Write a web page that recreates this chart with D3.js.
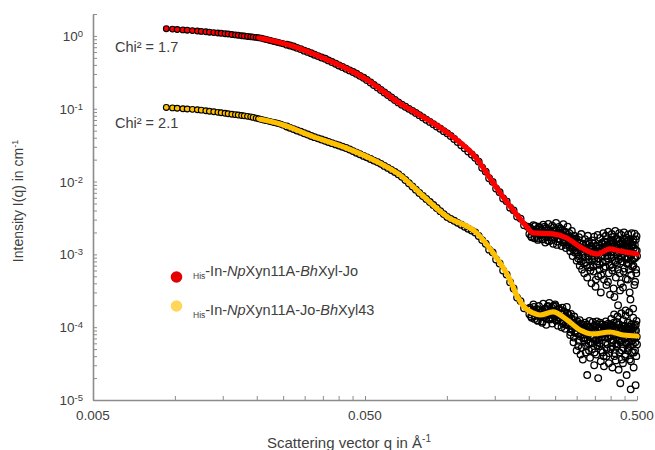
<!DOCTYPE html>
<html>
<head>
<meta charset="utf-8">
<style>
  body { margin: 0; background: #fff; }
  svg text { font-family: "Liberation Sans", Arial, sans-serif; fill: #404040; }
</style>
</head>
<body>
<svg id="chart" width="655" height="450"></svg>
<script src="https://d3js.org/d3.v7.min.js"></script>
<script>

// low q: points still visible one by one (fit sits inside them)
var qLow = [0.0093, 0.0098, 0.0102, 0.0107, 0.0111, 0.0116, 0.0121, 0.0125, 0.0130, 0.0134,
  0.0139, 0.0144, 0.0148, 0.0153, 0.0157, 0.0162, 0.0167, 0.0171, 0.0176, 0.0180,
  0.0185, 0.0190, 0.0194, 0.0199, 0.0203, 0.0208, 0.0213, 0.0217, 0.0222, 0.0226,
  0.0231, 0.0236, 0.0240, 0.0245, 0.0250];
var lowRed = [1.256, 1.240, 1.224, 1.209, 1.198, 1.183, 1.168, 1.153, 1.139, 1.124,
  1.110, 1.096, 1.086, 1.072, 1.062, 1.045, 1.032, 1.019, 1.006, 0.997,
  0.984, 0.972, 0.963, 0.954, 0.945, 0.927, 0.907, 0.892, 0.873, 0.859,
  0.840, 0.824, 0.812, 0.796, 0.781];
var lowYellow = [0.1042, 0.1026, 0.1016, 0.1000, 0.0991, 0.0981, 0.0969, 0.0957, 0.0939, 0.0924,
  0.0909, 0.0892, 0.0881, 0.0865, 0.0854, 0.0840, 0.0830, 0.0819, 0.0806, 0.0799,
  0.0786, 0.0774, 0.0760, 0.0743, 0.0729, 0.0713, 0.0697, 0.0686, 0.0671, 0.0661,
  0.0648, 0.0636, 0.0626, 0.0612, 0.0595];

// mid q: measured data (open circles)
var qMid = [0.0258, 0.0265, 0.0273, 0.0281, 0.0290, 0.0299, 0.0308, 0.0317, 0.0326, 0.0336,
  0.0346, 0.0357, 0.0367, 0.0378, 0.0390, 0.0401, 0.0413, 0.0426, 0.0439, 0.0452,
  0.0465, 0.0479, 0.0494, 0.0508, 0.0524, 0.0539, 0.0556, 0.0572, 0.0589, 0.0607,
  0.0625, 0.0644, 0.0663, 0.0683, 0.0704, 0.0725, 0.0747, 0.0769, 0.0792, 0.0816,
  0.0840, 0.0866, 0.0892, 0.0918, 0.0946, 0.0974, 0.1003, 0.1033, 0.1064, 0.1096,
  0.1129, 0.1163, 0.1198, 0.1234, 0.1271, 0.1309, 0.1348, 0.1389, 0.1430, 0.1473,
  0.1517, 0.1563, 0.1610, 0.1658, 0.1708, 0.1759, 0.1812, 0.1866, 0.1922, 0.1980];
var midRed = [0.759, 0.738, 0.717, 0.686, 0.659, 0.628, 0.603, 0.577, 0.552, 0.528,
  0.505, 0.485, 0.461, 0.438, 0.415, 0.393, 0.374, 0.354, 0.336, 0.319,
  0.302, 0.283, 0.266, 0.248, 0.229, 0.2116, 0.1962, 0.1812, 0.1674, 0.1547,
  0.1429, 0.1321, 0.1221, 0.1138, 0.1065, 0.0997, 0.0936, 0.0876, 0.0817, 0.0760,
  0.0706, 0.0659, 0.0612, 0.0569, 0.0530, 0.0492, 0.0459, 0.0423, 0.0384, 0.0348,
  0.0315, 0.0286, 0.0259, 0.0235, 0.0212, 0.0188, 0.0155, 0.0137, 0.0111, 0.00990,
  0.00800, 0.00712, 0.00585, 0.00535, 0.00438, 0.00402, 0.00330, 0.00310, 0.00252, 0.00240];
var midYellow = [0.0571, 0.0546, 0.0525, 0.0502, 0.0482, 0.0461, 0.0442, 0.0423, 0.0407, 0.0392,
  0.0378, 0.0363, 0.0350, 0.0337, 0.0324, 0.0312, 0.0301, 0.0289, 0.0276, 0.0262,
  0.0249, 0.0237, 0.0225, 0.0215, 0.0204, 0.0194, 0.0185, 0.0175, 0.0164, 0.0154,
  0.0144, 0.0135, 0.0126, 0.0116, 0.0105, 0.00948, 0.00856, 0.00774, 0.00697, 0.00634,
  0.00577, 0.00523, 0.00476, 0.00433, 0.00392, 0.00357, 0.00326, 0.00306, 0.00289, 0.00271,
  0.00255, 0.00240, 0.00225, 0.00212, 0.00200, 0.00179, 0.00157, 0.00140, 0.00116, 0.00106,
  0.000850, 0.000750, 0.000600, 0.000530, 0.000415, 0.000340, 0.000255, 0.000228, 0.000182, 0.000178];

// high q: noisy tail, even thousandths
var qHigh = [0.202, 0.204, 0.206, 0.208, 0.210, 0.212, 0.214, 0.216, 0.218, 0.220,
  0.222, 0.224, 0.226, 0.228, 0.230, 0.232, 0.234, 0.236, 0.238, 0.240,
  0.242, 0.244, 0.246, 0.248, 0.250, 0.252, 0.254, 0.256, 0.258, 0.260,
  0.262, 0.264, 0.266, 0.268, 0.270, 0.272, 0.274, 0.276, 0.278, 0.280,
  0.282, 0.284, 0.286, 0.288, 0.290, 0.292, 0.294, 0.296, 0.298, 0.300,
  0.302, 0.304, 0.306, 0.308, 0.310, 0.312, 0.314, 0.316, 0.318, 0.320,
  0.322, 0.324, 0.326, 0.328, 0.330, 0.332, 0.334, 0.336, 0.338, 0.340,
  0.342, 0.344, 0.346, 0.348, 0.350, 0.352, 0.354, 0.356, 0.358, 0.360,
  0.362, 0.364, 0.366, 0.368, 0.370, 0.372, 0.374, 0.376, 0.378, 0.380,
  0.382, 0.384, 0.386, 0.388, 0.390, 0.392, 0.394, 0.396, 0.398, 0.400,
  0.402, 0.404, 0.406, 0.408, 0.410, 0.412, 0.414, 0.416, 0.418, 0.420,
  0.422, 0.424, 0.426, 0.428, 0.430, 0.432, 0.434, 0.436, 0.438, 0.440,
  0.442, 0.444, 0.446, 0.448, 0.450, 0.452, 0.454, 0.456, 0.458, 0.460,
  0.462, 0.464, 0.466, 0.468, 0.470, 0.472, 0.474, 0.476, 0.478, 0.480,
  0.482, 0.484, 0.486, 0.488, 0.490, 0.492, 0.494, 0.496, 0.498, 0.500];
var highRed = [0.00235, 0.00178, 0.00205, 0.00252, 0.00166, 0.00195, 0.00221, 0.00158, 0.00240, 0.00184,
  0.00210, 0.00162, 0.00255, 0.00190, 0.00145, 0.00230, 0.00175, 0.00262, 0.00152, 0.00202,
  0.00170, 0.00248, 0.00140, 0.00215, 0.00188, 0.00270, 0.00135, 0.00198, 0.00238, 0.00160,
  0.00225, 0.00130, 0.00185, 0.00260, 0.00148, 0.00205, 0.00122, 0.00172, 0.00240, 0.00138,
  0.00195, 0.00110, 0.00158, 0.00210, 0.00095, 0.00142, 0.00180, 0.00105, 0.00165, 0.00082,
  0.00150, 0.00088, 0.00172, 0.00070, 0.00125, 0.00190, 0.00062, 0.00138, 0.00105, 0.00055,
  0.00162, 0.00078, 0.00120, 0.00048, 0.00180, 0.00095, 0.00140, 0.00066, 0.00110, 0.00040,
  0.00155, 0.00085, 0.00058, 0.00175, 0.00102, 0.00036, 0.00130, 0.00072, 0.00185, 0.00050,
  0.00120, 0.00062, 0.00168, 0.00030, 0.00095, 0.00145, 0.00078, 0.00195, 0.00045, 0.00110,
  0.00068, 0.00180, 0.00038, 0.00135, 0.00088, 0.00205, 0.00055, 0.00122, 0.00028, 0.00158,
  0.00098, 0.00190, 0.00060, 0.00140, 0.00034, 0.00175, 0.00082, 0.00210, 0.00048, 0.00125,
  0.00072, 0.00162, 0.00020, 0.00108, 0.00195, 0.00055, 0.00138, 0.00040, 0.00185, 0.00090,
  0.00148, 0.00035, 0.00115, 0.00200, 0.00064, 0.00130, 0.00017, 0.00170, 0.00085, 0.00152,
  0.00045, 0.00188, 0.00075, 0.00120, 0.00030, 0.00162, 0.00100, 0.00052, 0.00195, 0.00068,
  0.00135, 0.00018, 0.00158, 0.00088, 0.00192, 0.00042, 0.00115, 0.00062, 0.00178, 0.00095];
var highYellow = [0.000185, 0.000140, 0.000162, 0.000205, 0.000130, 0.000155, 0.000178, 0.000122, 0.000195, 0.000145,
  0.000160, 0.000115, 0.000210, 0.000138, 0.000172, 0.000108, 0.000190, 0.000150, 0.000215, 0.000128,
  0.000170, 0.000112, 0.000195, 0.000142, 0.000205, 0.000125, 0.000158, 0.000105, 0.000182, 0.000135,
  0.000155, 0.000100, 0.000185, 0.000122, 0.000162, 0.000095, 0.000140, 0.000190, 0.000110, 0.000148,
  0.000130, 0.000078, 0.000152, 0.000092, 0.000115, 0.000062, 0.000140, 0.000085, 0.000105, 0.000048,
  0.000120, 0.000055, 0.000098, 0.000125, 0.000042, 0.000080, 0.000110, 0.000036, 0.000092, 0.000065,
  0.000115, 0.000045, 0.000088, 0.000022, 0.000102, 0.000060, 0.000122, 0.000038, 0.000075, 0.000095,
  0.000050, 0.000118, 0.000070, 0.000030, 0.000105, 0.000085, 0.000042, 0.000120, 0.000062, 0.000020,
  0.000098, 0.000055, 0.000115, 0.000034, 0.000080, 0.000110, 0.000045, 0.000090, 0.000029, 0.000105,
  0.000072, 0.000120, 0.000040, 0.000095, 0.000058, 0.000112, 0.000032, 0.000085, 0.000102, 0.000050,
  0.000130, 0.000062, 0.000028, 0.000105, 0.000078, 0.000150, 0.000044, 0.000092, 0.000035, 0.000118,
  0.000055, 0.000140, 0.000082, 0.000026, 0.000110, 0.000066, 0.000017, 0.000095, 0.000155, 0.000048,
  0.000088, 0.000032, 0.000125, 0.000070, 0.000102, 0.000040, 0.000145, 0.000060, 0.000022, 0.000098,
  0.000115, 0.000052, 0.000080, 0.000160, 0.000036, 0.000092, 0.000014, 0.000108, 0.000064, 0.000045,
  0.000085, 0.000135, 0.000028, 0.000072, 0.000105, 0.000048, 0.000016, 0.000090, 0.000122, 0.000058];

// high q: noisy tail, odd thousandths
var qHigh2 = [0.201, 0.203, 0.205, 0.207, 0.209, 0.211, 0.213, 0.215, 0.217, 0.219,
  0.221, 0.223, 0.225, 0.227, 0.229, 0.231, 0.233, 0.235, 0.237, 0.239,
  0.241, 0.243, 0.245, 0.247, 0.249, 0.251, 0.253, 0.255, 0.257, 0.259,
  0.261, 0.263, 0.265, 0.267, 0.269, 0.271, 0.273, 0.275, 0.277, 0.279,
  0.281, 0.283, 0.285, 0.287, 0.289, 0.291, 0.293, 0.295, 0.297, 0.299,
  0.301, 0.303, 0.305, 0.307, 0.309, 0.311, 0.313, 0.315, 0.317, 0.319,
  0.321, 0.323, 0.325, 0.327, 0.329, 0.331, 0.333, 0.335, 0.337, 0.339,
  0.341, 0.343, 0.345, 0.347, 0.349, 0.351, 0.353, 0.355, 0.357, 0.359,
  0.361, 0.363, 0.365, 0.367, 0.369, 0.371, 0.373, 0.375, 0.377, 0.379,
  0.381, 0.383, 0.385, 0.387, 0.389, 0.391, 0.393, 0.395, 0.397, 0.399,
  0.401, 0.403, 0.405, 0.407, 0.409, 0.411, 0.413, 0.415, 0.417, 0.419,
  0.421, 0.423, 0.425, 0.427, 0.429, 0.431, 0.433, 0.435, 0.437, 0.439,
  0.441, 0.443, 0.445, 0.447, 0.449, 0.451, 0.453, 0.455, 0.457, 0.459,
  0.461, 0.463, 0.465, 0.467, 0.469, 0.471, 0.473, 0.475, 0.477, 0.479,
  0.481, 0.483, 0.485, 0.487, 0.489, 0.491, 0.493, 0.495, 0.497, 0.499];
var highRed2 = [0.00190, 0.00225, 0.00172, 0.00210, 0.00198, 0.00245, 0.00180, 0.00205, 0.00165, 0.00230,
  0.00185, 0.00220, 0.00160, 0.00200, 0.00240, 0.00175, 0.00195, 0.00155, 0.00215, 0.00188,
  0.00205, 0.00158, 0.00192, 0.00235, 0.00170, 0.00182, 0.00220, 0.00150, 0.00195, 0.00210,
  0.00162, 0.00190, 0.00215, 0.00145, 0.00178, 0.00155, 0.00200, 0.00135, 0.00168, 0.00185,
  0.00148, 0.00125, 0.00170, 0.00130, 0.00155, 0.00118, 0.00138, 0.00160, 0.00112, 0.00128,
  0.00105, 0.00132, 0.00095, 0.00145, 0.00115, 0.00080, 0.00122, 0.00098, 0.00140, 0.00075,
  0.00125, 0.00092, 0.00138, 0.00070, 0.00105, 0.00150, 0.00085, 0.00118, 0.00060, 0.00130,
  0.00095, 0.00122, 0.00068, 0.00140, 0.00088, 0.00110, 0.00045, 0.00128, 0.00080, 0.00105,
  0.00088, 0.00132, 0.00072, 0.00115, 0.00052, 0.00140, 0.00098, 0.00125, 0.00065, 0.00150,
  0.00105, 0.00145, 0.00080, 0.00162, 0.00095, 0.00042, 0.00130, 0.00112, 0.00070, 0.00138,
  0.00148, 0.00090, 0.00128, 0.00066, 0.00155, 0.00105, 0.00026, 0.00120, 0.00078, 0.00165,
  0.00100, 0.00135, 0.00062, 0.00152, 0.00085, 0.00118, 0.00032, 0.00142, 0.00095, 0.00125,
  0.00080, 0.00140, 0.00102, 0.00058, 0.00160, 0.00092, 0.00122, 0.00046, 0.00135, 0.00075,
  0.00125, 0.00088, 0.00155, 0.00062, 0.00110, 0.00142, 0.00024, 0.00095, 0.00130, 0.00082,
  0.00105, 0.00148, 0.00070, 0.00122, 0.00038, 0.00135, 0.00090, 0.00160, 0.00055, 0.00112];
var highYellow2 = [0.000150, 0.000175, 0.000135, 0.000162, 0.000190, 0.000142, 0.000158, 0.000125, 0.000170, 0.000148,
  0.000138, 0.000165, 0.000120, 0.000155, 0.000180, 0.000132, 0.000145, 0.000195, 0.000128, 0.000160,
  0.000148, 0.000185, 0.000130, 0.000168, 0.000140, 0.000195, 0.000122, 0.000155, 0.000175, 0.000135,
  0.000125, 0.000152, 0.000170, 0.000112, 0.000140, 0.000162, 0.000108, 0.000130, 0.000155, 0.000118,
  0.000105, 0.000122, 0.000085, 0.000132, 0.000095, 0.000112, 0.000072, 0.000125, 0.000090, 0.000100,
  0.000082, 0.000105, 0.000065, 0.000095, 0.000075, 0.000112, 0.000052, 0.000088, 0.000070, 0.000100,
  0.000072, 0.000095, 0.000055, 0.000108, 0.000068, 0.000085, 0.000048, 0.000098, 0.000062, 0.000078,
  0.000088, 0.000060, 0.000102, 0.000072, 0.000045, 0.000092, 0.000065, 0.000110, 0.000056, 0.000080,
  0.000070, 0.000100, 0.000060, 0.000092, 0.000048, 0.000108, 0.000075, 0.000085, 0.000040, 0.000095,
  0.000082, 0.000062, 0.000105, 0.000050, 0.000090, 0.000070, 0.000098, 0.000044, 0.000078, 0.000110,
  0.000075, 0.000100, 0.000055, 0.000088, 0.000066, 0.000115, 0.000040, 0.000080, 0.000095, 0.000060,
  0.000090, 0.000058, 0.000108, 0.000068, 0.000082, 0.000045, 0.000098, 0.000062, 0.000076, 0.000036,
  0.000066, 0.000095, 0.000052, 0.000085, 0.000072, 0.000105, 0.000042, 0.000080, 0.000060, 0.000092,
  0.000070, 0.000048, 0.000088, 0.000062, 0.000102, 0.000055, 0.000078, 0.000034, 0.000095, 0.000066,
  0.000080, 0.000058, 0.000098, 0.000045, 0.000072, 0.000090, 0.000062, 0.000108, 0.000040, 0.000074];

// model fits
var qFitRed = [0.0206, 0.0272, 0.0362, 0.0467, 0.0509, 0.0672, 0.0777, 0.103, 0.129, 0.144,
  0.157, 0.175, 0.197, 0.207, 0.246, 0.276, 0.309, 0.356, 0.398, 0.433, 0.500];
var fitRed = [0.935, 0.722, 0.473, 0.301, 0.249, 0.1183, 0.0862, 0.0437, 0.0204, 0.0112,
  0.00697, 0.00407, 0.00238, 0.00197, 0.00191, 0.00168, 0.00126, 0.00101, 0.00119, 0.00111, 0.00101];
var qFitYellow = [0.0206, 0.0244, 0.0322, 0.0429, 0.0568, 0.0672, 0.0797, 0.1001, 0.129, 0.1477,
  0.1707, 0.1811, 0.1937, 0.2073, 0.220, 0.2456, 0.2764, 0.3085, 0.3445, 0.3978, 0.444, 0.500];
var fitYellow = [0.0716, 0.0618, 0.0414, 0.0287, 0.0178, 0.0123, 0.00691, 0.00330, 0.00195, 0.00105,
  0.000445, 0.000268, 0.000184, 0.000157, 0.000147, 0.000162, 0.000126, 0.0000915, 0.0000807, 0.0000859,
  0.0000781, 0.0000757];

var chiLabels = ["Chi\u00b2 = 1.7", "Chi\u00b2 = 2.1"];
var xTickLabels = ["0.005", "0.050", "0.500"];
var xTickAt = [0.005, 0.05, 0.5];
var yTickExp = [0, -1, -2, -3, -4, -5];
var legendRed = [["-In-", false], ["Np", true], ["Xyn11A-", false], ["Bh", true], ["Xyl-Jo", false]];
var legendYellow = [["-In-", false], ["Np", true], ["Xyn11A-Jo-", false], ["Bh", true], ["Xyl43", false]];

var red = "#ff0000", yellow = "#ffc000";

var svg = d3.select("#chart");
var X = d3.scaleLog().domain([0.005, 0.5]).range([93, 637]);
var Y = d3.scaleLog().domain([1e-5, 2]).range([400, 14]);

function pts(qs, vs) {
  return qs.map(function(q, i) { return {q: q, v: vs[i]}; });
}

// axes
var xTicks = d3.range(1, 10).map(function(k) { return k * 0.005; })
  .concat(d3.range(1, 11).map(function(k) { return k * 0.05; }));
var yTicks = [];
[-5, -4, -3, -2, -1].forEach(function(e) {
  for (var k = 1; k < 10; k++) yTicks.push(k * Math.pow(10, e));
});
yTicks.push(1, 2);

var gx = svg.append("g").attr("transform", "translate(0,400)")
  .call(d3.axisBottom(X).tickValues(xTicks).tickSize(-4).tickSizeOuter(0).tickFormat(""));
var gy = svg.append("g").attr("transform", "translate(93,0)")
  .call(d3.axisLeft(Y).tickValues(yTicks).tickSize(-4).tickSizeOuter(0).tickFormat(""));
[gx, gy].forEach(function(g) {
  g.select(".domain").attr("stroke", "#8c8c8c").attr("stroke-width", 1.6);
  g.selectAll(".tick line").attr("stroke", "#8c8c8c").attr("stroke-width", 1);
});

svg.append("g").selectAll("text")
  .data(xTickAt)
  .enter().append("text")
  .attr("x", function(d) { return X(d); })
  .attr("y", 420)
  .attr("text-anchor", "middle")
  .attr("font-size", 13.5)
  .text(function(d, i) { return xTickLabels[i]; });

var yl = svg.append("g").selectAll("text")
  .data(yTickExp)
  .enter().append("text")
  .attr("x", 83)
  .attr("y", function(d) { return Y(Math.pow(10, d)) + 5; })
  .attr("text-anchor", "end")
  .attr("font-size", 13.5);
yl.append("tspan").text("10");
yl.append("tspan").attr("dy", -4).attr("font-size", 9.5).text(function(d) { return d === 0 ? "0" : "-" + (-d); });

// axis titles
var yt = svg.append("text")
  .attr("transform", "translate(23,201) rotate(-90)")
  .attr("text-anchor", "middle")
  .attr("font-size", 14);
yt.append("tspan").text("Intensity I(q) in cm");
yt.append("tspan").attr("dy", -5).attr("font-size", 9).text("-1");

var xt = svg.append("text")
  .attr("x", 267).attr("y", 448)
  .attr("font-size", 15);
xt.append("tspan").text("Scattering vector q in \u00c5");
xt.append("tspan").attr("dy", -6).attr("font-size", 10).text("-1");

// data
var measured = pts(qMid, midRed).concat(
  pts(qHigh, highRed), pts(qHigh2, highRed2),
  pts(qMid, midYellow), pts(qHigh, highYellow), pts(qHigh2, highYellow2));

svg.append("g").selectAll("circle")
  .data(measured)
  .enter().append("circle")
  .attr("cx", function(d) { return X(d.q); })
  .attr("cy", function(d) { return Y(d.v); })
  .attr("r", 3.3)
  .attr("fill", "none")
  .attr("stroke", "#000")
  .attr("stroke-width", 1.3);

[[lowRed, red], [lowYellow, yellow]].forEach(function(s) {
  svg.append("g").selectAll("circle")
    .data(pts(qLow, s[0]))
    .enter().append("circle")
    .attr("cx", function(d) { return X(d.q); })
    .attr("cy", function(d) { return Y(d.v); })
    .attr("r", 2.9)
    .attr("fill", s[1])
    .attr("stroke", "#000")
    .attr("stroke-width", 1.1);
});

var line = d3.line()
  .x(function(d) { return X(d.q); })
  .y(function(d) { return Y(d.v); })
  .curve(d3.curveMonotoneX);

[[qFitRed, fitRed, red], [qFitYellow, fitYellow, yellow]].forEach(function(s) {
  svg.append("path")
    .datum(pts(s[0], s[1]))
    .attr("d", line)
    .attr("fill", "none")
    .attr("stroke", s[2])
    .attr("stroke-width", 5.2)
    .attr("stroke-linecap", "round")
    .attr("stroke-linejoin", "round");
});

// chi labels
svg.append("g").selectAll("text")
  .data(chiLabels)
  .enter().append("text")
  .attr("x", 115)
  .attr("y", function(d, i) { return i === 0 ? 52 : 128; })
  .attr("font-size", 14.5)
  .text(function(d) { return d; });

// legend
[[legendRed, "#e50000", 277, 276], [legendYellow, "#ffd55a", 306, 315]].forEach(function(s) {
  svg.append("circle")
    .attr("cx", 176.5).attr("cy", s[2]).attr("r", 5.8)
    .attr("fill", s[1]);
  var t = svg.append("text").attr("x", 193).attr("y", s[3]).attr("font-size", 14.5);
  t.append("tspan").attr("font-size", 8.5).attr("dy", 3).text("His");
  s[0].forEach(function(p, i) {
    var ts = t.append("tspan").text(p[0]).attr("font-style", p[1] ? "italic" : "normal");
    if (i === 0) ts.attr("dy", -3);
  });
});

</script>
</body>
</html>
